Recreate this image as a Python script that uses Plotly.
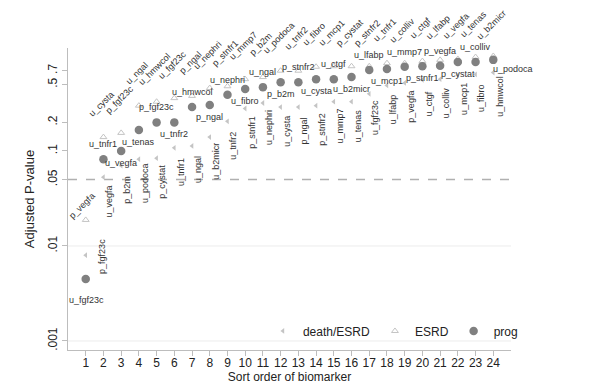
import math
import plotly.graph_objects as go

# ---------------- data ----------------
order = list(range(1, 25))

prog_p = [0.0045, 0.082, 0.100, 0.166, 0.20, 0.20, 0.29, 0.305, 0.39, 0.45, 0.47, 0.53,
          0.53, 0.57, 0.57, 0.60, 0.71, 0.73, 0.77, 0.78, 0.79, 0.865, 0.865, 0.91]
esrd_p = [0.0188, 0.140, 0.155, 0.30, 0.33, 0.36, 0.38, 0.46, 0.48, 0.57, 0.60, 0.70,
          0.70, 0.77, 0.78, 0.78, 0.78, 0.84, 0.84, 0.885, 0.91, 0.93, 0.975, 1.0]
death_p = [0.008, 0.053, 0.070, 0.082, 0.084, 0.108, 0.113, 0.14, 0.205, 0.28, 0.32, 0.29,
           0.29, 0.30, 0.33, 0.33, 0.40, 0.49, 0.52, 0.56, 0.57, 0.63, 0.64, 0.67]

prog_lab = ["u_fgf23c", "u_tnfr1", "u_vegfa", "u_tenas", "p_fgf23c", "u_tnfr2", "u_hmwcol",
            "p_ngal", "u_nephri", "u_fibro", "u_ngal", "p_b2m", "p_stnfr2", "u_cysta",
            "u_ctgf", "u_b2micr", "u_lfabp", "u_mcp1", "u_mmp7", "p_stnfr1", "p_vegfa",
            "p_cystat", "u_colliv", "u_podoca"]
esrd_lab = ["p_vegfa", "u_cysta", "p_fgf23c", "u_ngal", "u_hmwcol", "u_fgf23c", "p_ngal",
            "u_nephri", "p_stnfr1", "u_mmp7", "p_b2m", "u_podoca", "u_tnfr2", "u_fibro",
            "u_mcp1", "p_cystat", "p_stnfr2", "u_tnfr1", "u_colliv", "u_ctgf", "u_lfabp",
            "u_vegfa", "u_tenas", "u_b2micr"]
death_lab = ["p_fgf23c", "u_vegfa", "p_b2m", "u_podoca", "p_cystat", "u_tnfr1", "u_ngal",
             "u_b2micr", "u_tnfr2", "p_stnfr1", "u_nephri", "u_cysta", "p_ngal", "p_stnfr2",
             "u_mmp7", "u_tenas", "u_fgf23c", "u_lfabp", "p_vegfa", "u_ctgf", "u_colliv",
             "u_mcp1", "u_fibro", "u_hmwcol"]

ytick_vals = [0.001, 0.01, 0.05, 0.1, 0.2, 0.5, 0.7]
ytick_text = [".001", ".01", ".05", ".1", ".2", ".5", ".7"]

# ---------------- styling / label placement ----------------
FONT = "Liberation Sans, Arial, sans-serif"
LAB_COLOR = "#333333"
AX_COLOR = "#bdbdbd"

# prog label side: a = above, b = below, br = below-right
prog_side = ["b", "a", "b", "b", "a", "b", "a", "b", "a", "b", "a", "b",
             "a", "b", "a", "b", "a", "b", "a", "b", "a", "b", "a", "br"]
side_shift = {"a": (0, 15), "b": (0, -12), "br": (20, -9)}

fig = go.Figure()
fig.add_trace(go.Scatter(x=order, y=death_p, mode="markers", name="death/ESRD",
                         marker=dict(symbol="triangle-left", size=5, color="#c4c4c4")))
fig.add_trace(go.Scatter(x=order, y=esrd_p, mode="markers", name="ESRD",
                         marker=dict(symbol="triangle-up-open", size=6, color="#c4c4c4",
                                     line=dict(width=1, color="#c4c4c4"))))
fig.add_trace(go.Scatter(x=order, y=prog_p, mode="markers", name="prog",
                         marker=dict(symbol="circle", size=8.5, color="#808080")))

annots = []
lab_font = dict(family=FONT, size=9, color=LAB_COLOR)
for i, xv in enumerate(order):
    # prog: horizontal labels
    dx, dy = side_shift[prog_side[i]]
    if i == 0:
        dx, dy = 1, -21
    annots.append(dict(x=xv, y=math.log10(prog_p[i]), xref="x", yref="y", text=prog_lab[i],
                       showarrow=False, xanchor="center", yanchor="middle",
                       xshift=dx, yshift=dy, font=lab_font))
    # ESRD: 45-degree labels above
    dx, dy = -2, 33
    if i == 0:
        dx, dy = -4, 14
    if i == 23:
        dy = 31
    annots.append(dict(x=xv, y=math.log10(esrd_p[i]), xref="x", yref="y", text=esrd_lab[i],
                       showarrow=False, xanchor="center", yanchor="middle", textangle=-45,
                       xshift=dx, yshift=dy, font=lab_font))
    # death/ESRD: vertical labels below
    dx, dy = 6, -24
    if i == 0:
        dx, dy = 16, -1
    annots.append(dict(x=xv, y=math.log10(death_p[i]), xref="x", yref="y", text=death_lab[i],
                       showarrow=False, xanchor="center", yanchor="middle", textangle=-90,
                       xshift=dx, yshift=dy, font=lab_font))

shapes = [
    dict(type="line", xref="paper", yref="y", x0=0, x1=1, y0=0.001, y1=0.001,
         line=dict(color="#ececec", width=1), layer="below"),
    dict(type="line", xref="paper", yref="y", x0=0, x1=1, y0=0.01, y1=0.01,
         line=dict(color="#ececec", width=1), layer="below"),
    dict(type="line", xref="paper", yref="y", x0=0, x1=1, y0=0.05, y1=0.05,
         line=dict(color="#b0b0b0", width=1.5, dash="dash"), layer="below"),
]

fig.update_layout(
    width=590, height=385,
    margin=dict(l=60, r=87, t=40, b=43),
    paper_bgcolor="white", plot_bgcolor="white",
    font=dict(family=FONT, size=12, color="#222222"),
    annotations=annots,
    shapes=shapes,
    showlegend=True,
    legend=dict(orientation="h", x=0.44, xanchor="left", y=0.015, yanchor="bottom",
                bgcolor="rgba(0,0,0,0)", font=dict(family=FONT, size=12, color="#222222"),
                itemwidth=30, tracegroupgap=0),
    xaxis=dict(range=[0, 25], tickmode="array", tickvals=order,
               ticktext=[str(v) for v in order],
               ticks="outside", ticklen=5, tickcolor=AX_COLOR, showline=True,
               linecolor=AX_COLOR, linewidth=1, showgrid=False, zeroline=False,
               tickfont=dict(size=12), ticklabelstandoff=-3,
               title=dict(text="Sort order of biomarker", font=dict(size=12), standoff=0)),
    yaxis=dict(type="log", range=[-3.095, 0.084], tickmode="array", tickvals=ytick_vals,
               ticktext=ytick_text, tickangle=-90, ticks="outside", ticklen=5,
               tickcolor=AX_COLOR, showline=True, linecolor=AX_COLOR, linewidth=1,
               showgrid=False, zeroline=False, tickfont=dict(size=12),
               title=dict(text="Adjusted P-value", font=dict(size=13), standoff=8)),
)

fig.write_html("out.html")
